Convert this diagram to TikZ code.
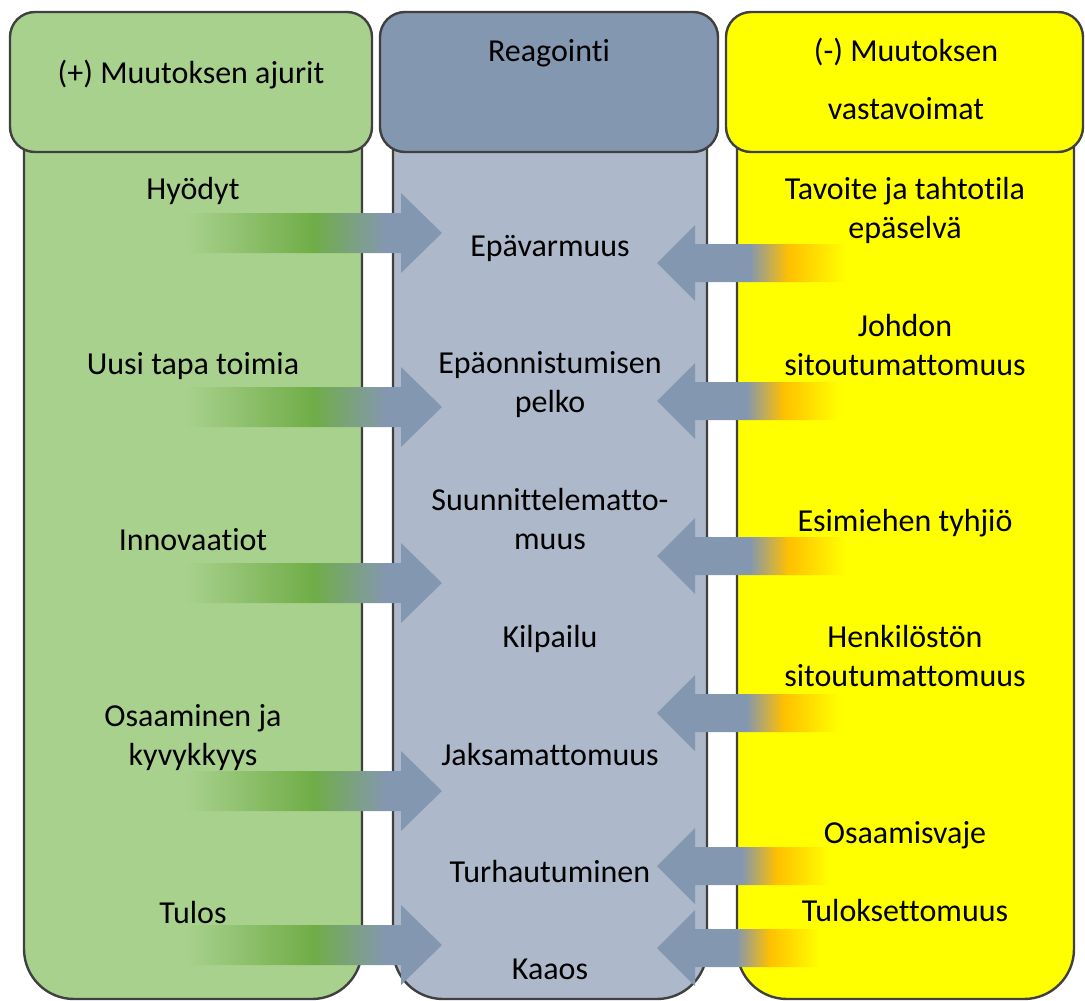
\documentclass[tikz,border=0pt]{standalone}
\usepackage{fontspec}
\setmainfont{Carlito}[Ligatures={NoCommon}]

\definecolor{edge}{HTML}{404040}
\definecolor{drvlight}{HTML}{A9D18E}
\definecolor{drvgreen}{HTML}{70AD47}
\definecolor{reahead}{HTML}{8497B0}
\definecolor{reabody}{HTML}{ADB9CA}
\definecolor{resyellow}{HTML}{FFFF00}
\definecolor{resorange}{HTML}{FFC000}

% fades for the block arrows (path box spans 25bp..75bp)
\pgfdeclarehorizontalshading{driverfade}{100bp}{color(0bp)=(drvlight); color(25bp)=(drvlight); color(50bp)=(drvgreen); color(64bp)=(reahead); color(100bp)=(reahead)}
\pgfdeclarehorizontalshading{resistfade}{100bp}{color(0bp)=(reahead); color(49bp)=(reahead); color(59bp)=(resorange); color(74bp)=(resyellow); color(100bp)=(resyellow)}

\tikzset{
  colhead/.style={draw=edge, line width=2.4pt, rounded corners=25},
  colbody/.style={draw=edge, line width=2.4pt, rounded corners=50},
  % multi-line labels: the base anchor sits on the last line
  lbl/.style={font=\fontsize{32}{39}\selectfont, align=center, anchor=base, inner sep=0pt, text=black},
  driver arrow/.pic={
    \shade[shading=driverfade] (-257,-20) -- (-41,-20) -- (-41,-40) -- (0,0)
      -- (-41,40) -- (-41,20) -- (-257,20) -- cycle;
  },
  resist arrow/.pic={
    \shade[shading=resistfade] (#1,-19) -- (38,-19) -- (38,-38) -- (0,0)
      -- (38,38) -- (38,19) -- (#1,19) -- cycle;
  }
}

\begin{document}
\begin{tikzpicture}[x=1pt, y=-1pt]
\useasboundingbox (0,0) rectangle (1085,1001);

% column bodies
\draw[colbody, fill=drvlight] (24,60) rectangle (362,999);
\draw[colbody, fill=reabody] (393,60) rectangle (707,999);
\draw[colbody, fill=resyellow] (737,60) rectangle (1074,999);

% column headers
\draw[colhead, fill=drvlight] (10,12) rectangle (372,152);
\draw[colhead, fill=reahead] (380,12) rectangle (718,152);
\draw[colhead, fill=resyellow] (726,12) rectangle (1083,152);

% arrow tips
\coordinate (d1) at (442,233);
\coordinate (d2) at (442,407);
\coordinate (d3) at (442,583);
\coordinate (d4) at (442,791);
\coordinate (d5) at (442,945);
\coordinate (r1) at (657,263);
\coordinate (r2) at (657,401);
\coordinate (r3) at (657,556);
\coordinate (r4) at (657,713);
\coordinate (r5) at (657,866);
\coordinate (r6) at (657,948);

\foreach \t in {d1,d2,d3,d4,d5} { \pic at (\t) {driver arrow}; }
\pic at (r1) {resist arrow=193};
\pic at (r2) {resist arrow=186};
\pic at (r3) {resist arrow=193};
\pic at (r4) {resist arrow=186};
\pic at (r5) {resist arrow=176};
\pic at (r6) {resist arrow=166};

% headers
\node[lbl] (hd) at (191,83) {(+) Muutoksen ajurit};
\node[lbl] (hr) at (549,61) {Reagointi};
\node[lbl] (hv) at (906,119) {(-) Muutoksen\\[19pt]vastavoimat};

% drivers
\node[lbl] (dt1) at (193,199) {Hyödyt};
\node[lbl] (dt2) at (193,374) {Uusi tapa toimia};
\node[lbl] (dt3) at (193,550) {Innovaatiot};
\node[lbl] (dt4) at (193,765) {Osaaminen ja\\kyvykkyys};
\node[lbl] (dt5) at (193,923) {Tulos};

% reactions
\node[lbl] (m1) at (550,256) {Epävarmuus};
\node[lbl] (m2) at (550,412) {Epäonnistumisen\\pelko};
\node[lbl] (m3) at (550,549) {Suunnittelematto-\\muus};
\node[lbl] (m4) at (550,647) {Kilpailu};
\node[lbl] (m5) at (550,765) {Jaksamattomuus};
\node[lbl] (m6) at (550,882) {Turhautuminen};
\node[lbl] (m7) at (550,979) {Kaaos};

% resisting forces
\node[lbl] (rt1) at (905,238) {Tavoite ja tahtotila\\epäselvä};
\node[lbl] (rt2) at (905,375) {Johdon\\sitoutumattomuus};
\node[lbl] (rt3) at (905,531) {Esimiehen tyhjiö};
\node[lbl] (rt4) at (905,686) {Henkilöstön\\sitoutumattomuus};
\node[lbl] (rt5) at (905,843) {Osaamisvaje};
\node[lbl] (rt6) at (905,921) {Tuloksettomuus};
\end{tikzpicture}
\end{document}
